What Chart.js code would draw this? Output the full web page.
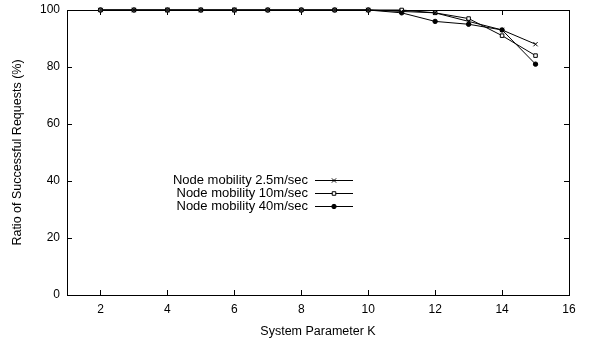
<!DOCTYPE html>
<html>
<head>
<meta charset="utf-8">
<script src="https://cdn.jsdelivr.net/npm/chart.js@4"></script>
<style>
  body { margin: 0; background: #fff; }
  #wrap { width: 613px; height: 339px; }
</style>
</head>
<body>
<div id="wrap"><canvas id="myChart" width="613" height="339"></canvas></div>
<script>
// values
var k_values = [2, 3, 4, 5, 6, 7, 8, 9, 10, 11, 12, 13, 14, 15]
var mob_2_5 = [100, 100, 100, 100, 100, 100, 100, 100, 100, 99.5, 99, 96, 93, 88]
var mob_10 = [100, 100, 100, 100, 100, 100, 100, 100, 100, 100, 99, 97, 91, 84]
var mob_40 = [100, 100, 100, 100, 100, 100, 100, 100, 100, 99, 96, 95, 93, 81]
var series_names = ['Node mobility 2.5m/sec', 'Node mobility 10m/sec', 'Node mobility 40m/sec']
var x_ticks = [2, 4, 6, 8, 10, 12, 14, 16]
var y_ticks = [0, 20, 40, 60, 80, 100]

var font_family = '"Liberation Sans", Arial, Helvetica, sans-serif'

function to_points(vals) {
    var out = []
    for (let i = 0; i < k_values.length; i++) {
        out.push({x: k_values[i], y: vals[i]})
    }
    return out
}

// gnuplot style: box around plot, ticks pointing inwards on all four sides
const frame_plugin = {
    id: 'frame',
    beforeDatasetsDraw(chart) {
        const ctx = chart.ctx
        const a = chart.chartArea
        const xs = chart.scales.x
        const ys = chart.scales.y
        const len = 5
        ctx.save()
        ctx.strokeStyle = '#000'
        ctx.lineWidth = 1
        ctx.strokeRect(Math.round(a.left) + 0.5, Math.round(a.top) + 0.5,
            Math.round(a.right - a.left), Math.round(a.bottom - a.top))
        ctx.beginPath()
        x_ticks.forEach(function (t) {
            var px = Math.round(xs.getPixelForValue(t)) + 0.5
            ctx.moveTo(px, a.bottom); ctx.lineTo(px, a.bottom - len)
            ctx.moveTo(px, a.top); ctx.lineTo(px, a.top + len)
        })
        y_ticks.forEach(function (t) {
            var py = Math.round(ys.getPixelForValue(t)) + 0.5
            ctx.moveTo(a.left, py); ctx.lineTo(a.left + len, py)
            ctx.moveTo(a.right, py); ctx.lineTo(a.right - len, py)
        })
        ctx.stroke()
        ctx.restore()
    }
}

// legend drawn inside the plot, text right aligned, sample line on the right
const key_plugin = {
    id: 'key',
    afterDatasetsDraw(chart) {
        const ctx = chart.ctx
        const text_right = 308
        const line_x0 = 315
        const line_x1 = 353
        const y0 = 180
        const step = 13
        ctx.save()
        ctx.font = '13px ' + font_family
        ctx.textAlign = 'right'
        ctx.textBaseline = 'middle'
        chart.data.datasets.forEach(function (ds, i) {
            var y = y0 + i * step
            ctx.fillStyle = '#000'
            ctx.fillText(ds.label, text_right, y)
            ctx.beginPath()
            ctx.strokeStyle = '#000'
            ctx.lineWidth = 1
            ctx.moveTo(line_x0, y + 0.5); ctx.lineTo(line_x1, y + 0.5)
            ctx.stroke()
            ctx.fillStyle = ds.pointBackgroundColor
            ctx.strokeStyle = '#000'
            Chart.helpers.drawPoint(ctx, {
                pointStyle: ds.pointStyle,
                radius: ds.pointRadius,
                borderWidth: 1
            }, (line_x0 + line_x1) / 2, y + 0.5)
        })
        ctx.restore()
    }
}

function make_ds(label, vals, style, radius, fill) {
    return {
        label: label,
        data: to_points(vals),
        borderColor: '#000',
        backgroundColor: fill,
        pointBackgroundColor: fill,
        pointBorderColor: '#000',
        pointStyle: style,
        pointRadius: radius,
        pointBorderWidth: 1,
        borderWidth: 1,
        tension: 0,
        clip: false,
        fill: false
    }
}

const ctx = document.getElementById('myChart')

new Chart(ctx, {
    type: 'line',
    data: {
        datasets: [
            make_ds(series_names[0], mob_2_5, 'crossRot', 3, '#000'),
            make_ds(series_names[1], mob_10, 'rect', 2.5, '#fff'),
            make_ds(series_names[2], mob_40, 'circle', 2.2, '#000')
        ]
    },
    options: {
        responsive: false,
        animation: false,
        layout: { padding: { top: 10, right: 44, left: 10, bottom: 0 } },
        plugins: {
            legend: { display: false },
            tooltip: { enabled: false }
        },
        scales: {
            x: {
                type: 'linear',
                min: 1,
                max: 16,
                afterBuildTicks: function (scale) {
                    scale.ticks = x_ticks.map(function (v) { return {value: v} })
                },
                afterFit: function (scale) {
                    scale.height = 44
                    scale.paddingLeft = 0
                    scale.paddingRight = 0
                },
                grid: { display: false, drawTicks: false },
                border: { display: false },
                ticks: { color: '#000', padding: 7, maxRotation: 0, font: { size: 12, family: font_family } },
                title: {
                    display: true,
                    text: 'System Parameter K',
                    color: '#000',
                    padding: { top: 4, bottom: 0 },
                    font: { size: 12.5, family: font_family }
                }
            },
            y: {
                min: 0,
                max: 100,
                afterBuildTicks: function (scale) {
                    scale.ticks = y_ticks.map(function (v) { return {value: v} })
                },
                afterFit: function (scale) {
                    scale.width = 57
                    scale.paddingTop = 0
                    scale.paddingBottom = 0
                },
                grid: { display: false, drawTicks: false },
                border: { display: false },
                ticks: { color: '#000', padding: 7, font: { size: 12, family: font_family } },
                title: {
                    display: true,
                    text: 'Ratio of Successful Requests (%)',
                    color: '#000',
                    padding: { top: 0, bottom: 4 },
                    font: { size: 12.5, family: font_family }
                }
            }
        }
    },
    plugins: [frame_plugin, key_plugin]
})
</script>
</body>
</html>
